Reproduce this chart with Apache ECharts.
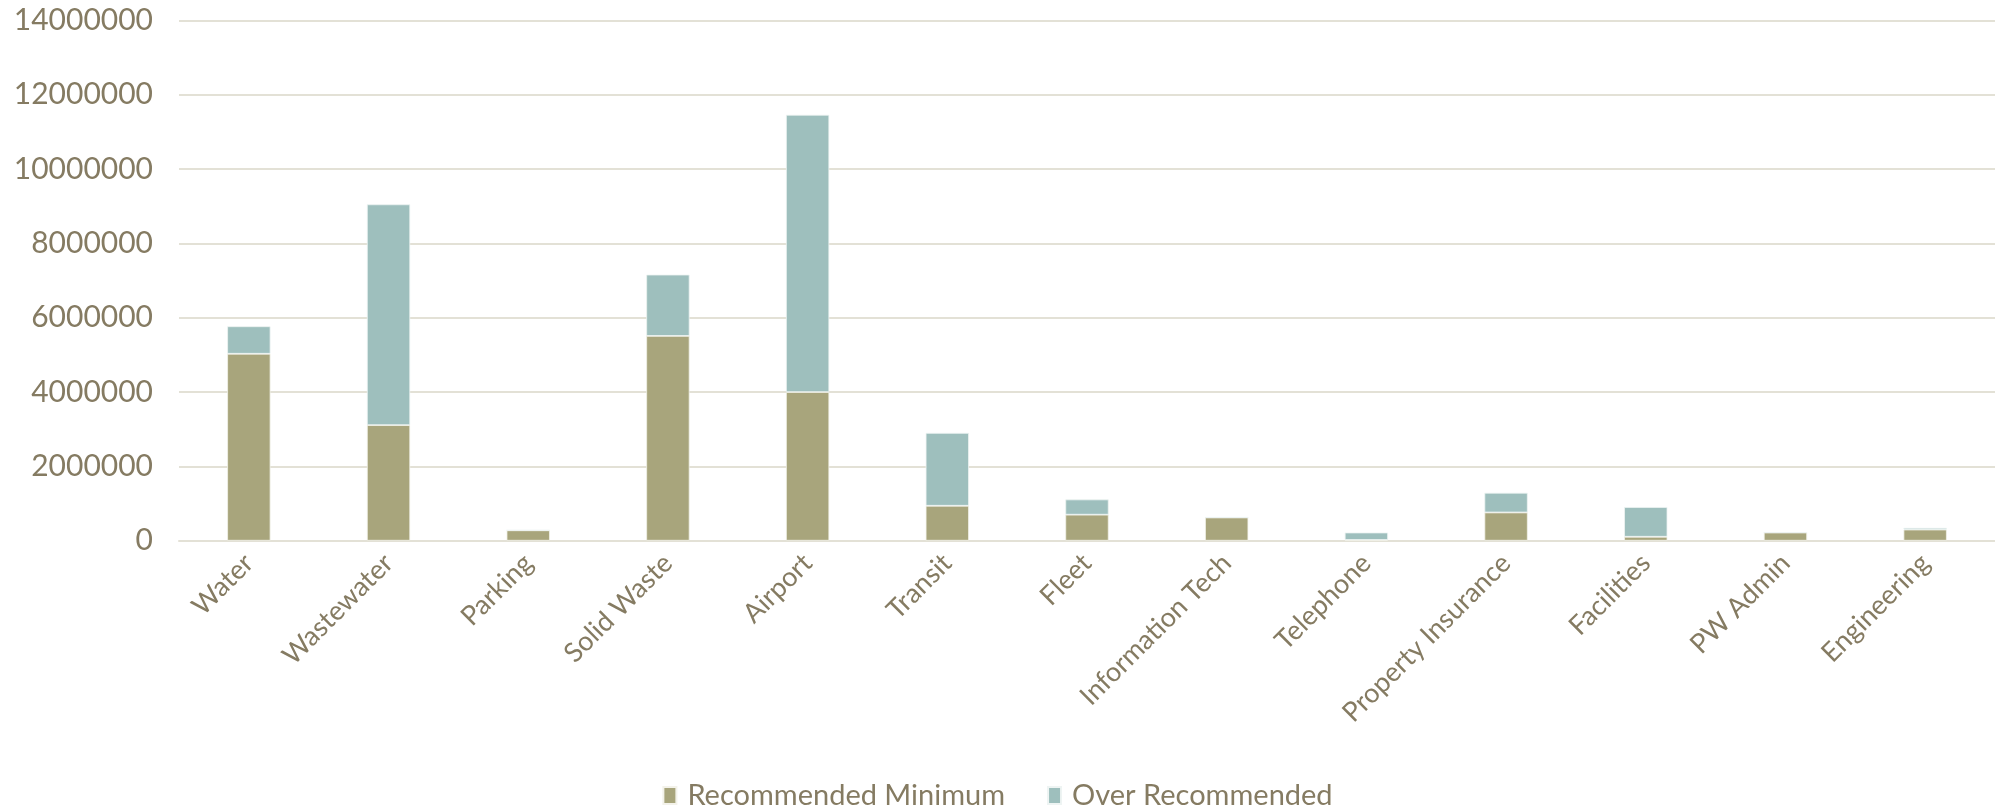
<!DOCTYPE html>
<html><head><meta charset="utf-8">
<script src="https://cdn.jsdelivr.net/npm/echarts@6/dist/echarts.min.js"></script>
<style>html,body{margin:0;padding:0;background:#fff}#c{width:1995px;height:807px}</style>
</head><body><div id="c"></div>
<script>
const categories = ['Water','Wastewater','Parking','Solid Waste','Airport','Transit','Fleet','Information Tech','Telephone','Property Insurance','Facilities','PW Admin','Engineering'];
const recommendedMinimum = [5030000,3110000,280000,5510000,4000000,940000,700000,625000,20000,760000,106000,220000,300000];
const overRecommended = [740000,5940000,0,1650000,7460000,1960000,410000,0,200000,530000,800000,0,46000];
const yTicks = {min:0, max:14000000, interval:2000000};
const seriesNames = ['Recommended Minimum','Over Recommended'];

const txt = '#857B62';
const font = 'Lato';
const chart = echarts.init(document.getElementById('c'));
chart.setOption({
  animation:false,
  textStyle:{fontFamily:font,color:txt},
  grid:{left:179, top:20.4, bottom:266.3, width:1828, containLabel:false},
  legend:{
    top:776, left:'center', itemWidth:13, itemHeight:17, itemGap:42,
    icon:'rect',
    textStyle:{fontFamily:font,fontSize:29,color:txt,padding:[0,0,0,6]},
    data:seriesNames
  },
  xAxis:{
    type:'category', data:categories,
    axisTick:{show:false},
    axisLine:{lineStyle:{color:'#E3E1D6',width:2}},
    axisLabel:{rotate:45, margin:18, fontSize:27, color:txt, fontFamily:font, interval:0}
  },
  yAxis:{
    type:'value', min:yTicks.min, max:yTicks.max, interval:yTicks.interval,
    axisLine:{show:false}, axisTick:{show:false},
    splitLine:{lineStyle:{color:'#E3E1D6',width:2}},
    axisLabel:{margin:26, fontSize:30, color:txt, fontFamily:font, formatter:v=>String(v)}
  },
  series:[
    {name:seriesNames[0], type:'bar', stack:'t', data:recommendedMinimum, barWidth:'31%',
     itemStyle:{color:'#A8A57C', borderColor:'#F3F2EA', borderWidth:0.8}},
    {name:seriesNames[1], type:'bar', stack:'t', data:overRecommended, barWidth:'31%',
     itemStyle:{color:'#9EBFBD', borderColor:'#EEF4F3', borderWidth:0.8}}
  ]
});
</script></body></html>
